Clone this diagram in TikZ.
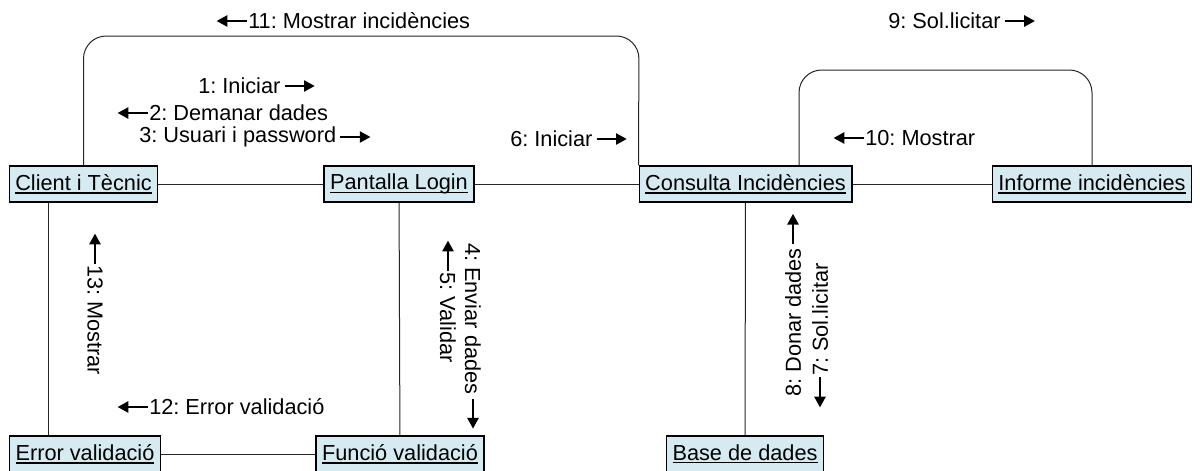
\documentclass[tikz,border=0pt]{standalone}
\usepackage{fontspec}
\setmainfont{Liberation Sans}
\usetikzlibrary{arrows.meta, positioning}
\definecolor{objblau}{RGB}{213,235,241}
\newcommand{\ulabel}[1]{\setbox0\hbox{#1}\rlap{\rule[-2.4pt]{\wd0}{0.9pt}}\box0}
\frenchspacing

\begin{document}
\begin{tikzpicture}[x=0.75pt, y=-0.75pt,
			objekt/.style={draw, line width=1.1pt, fill=objblau, minimum height=27pt, inner xsep=4.5pt, inner ysep=0pt},
			verb/.style={line width=0.75pt, draw=black!85},
			msg/.style={inner sep=0pt, anchor=west},
			pfeil/.style={-{Triangle[length=8pt,width=8.5pt]}, line width=1.1pt},
			font=\fontsize{16.3}{19}\selectfont]
			%Bildbereich
			\useasboundingbox (0,0) rectangle (1200,471);
			% Objekte
			\node[objekt] (client) at (83.5,184) {\ulabel{Client i Tècnic}};
			\node[objekt] (login) at (399,184) {\ulabel{Pantalla Login}};
			\node[objekt] (consulta) at (745.5,184) {\ulabel{Consulta Incidències}};
			\node[objekt] (informe) at (1092,184) {\ulabel{Informe incidències}};
			\node[objekt] (error) at (85,454) {\ulabel{Error validació}};
			\node[objekt] (funcio) at (400,454) {\ulabel{Funció validació}};
			\node[objekt] (base) at (745,454) {\ulabel{Base de dades}};
			% Verbindungen
			\foreach \a/\b in {client/login, login/consulta, consulta/informe, login/funcio, funcio/error, consulta/base}
				\draw[verb] (\a) -- (\b);
			\coordinate (ce) at (48,0);
			\draw[verb] (ce |- client.south) -- (ce |- error.north);
			\coordinate (bogen1) at (639,36);
			\draw[verb, rounded corners=17pt] (client.north) |- (bogen1) -- (consulta.north west);
			\coordinate (bogen2) at (799,70);
			\draw[verb, rounded corners=17pt] (bogen2 |- consulta.north) -- (bogen2) -| (informe.north);
			% Nachrichten nach rechts
			\foreach \n/\x/\y/\t in {1/198/86/{1: Iniciar}, 3/139/137/{3: Usuari i password}, 6/510/139/{6: Iniciar}, 9/888/21/{9: Sol.licitar}}
			{
				\node[msg] (m\n) at (\x,\y) {\t};
				\draw[pfeil] ([xshift=3pt]m\n.east) -- ++(30,0);
			}
			% Nachrichten nach links
			\foreach \n/\x/\y/\t in {2/149/113/{2: Demanar dades}, 10/865/138/{10: Mostrar}, 11/248/21/{11: Mostrar incidències}, 12/149/407/{12: Error validació}}
			{
				\node[msg] (m\n) at (\x,\y) {\t};
				\draw[pfeil] ([xshift=-1pt]m\n.west) -- ++(-30,0);
			}
			% senkrechte Nachrichten
			\node[msg, rotate=-90] (m13) at (95,265) {13: Mostrar};
			\draw[pfeil] ([yshift=1pt]m13.west) -- ++(0,-30);
			\node[msg, rotate=-90] (m4) at (473,243) {4: Enviar dades};
			\draw[pfeil] ([yshift=-3pt]m4.east) -- ++(0,30);
			\node[msg, rotate=-90] (m5) at (448,272) {5: Validar};
			\draw[pfeil] ([yshift=1pt]m5.west) -- ++(0,-30);
			\node[msg, rotate=90] (m8) at (793,397) {8: Donar dades};
			\draw[pfeil] ([yshift=3pt]m8.east) -- ++(0,-30);
			\node[msg, rotate=90] (m7) at (820,376) {7: Sol.licitar};
			\draw[pfeil] ([yshift=-1pt]m7.west) -- ++(0,30);
\end{tikzpicture}
\end{document}
